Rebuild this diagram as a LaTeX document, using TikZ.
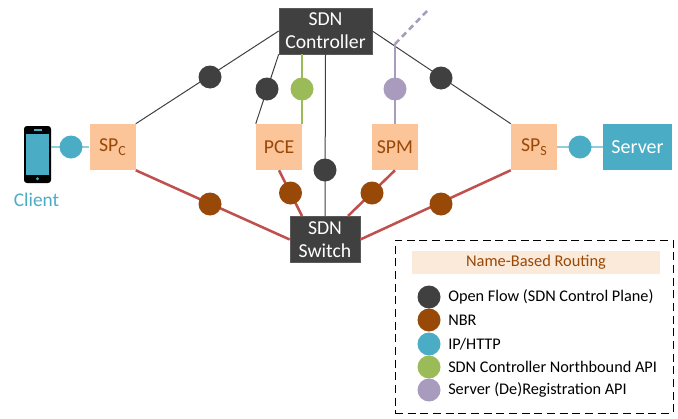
\documentclass[tikz,border=0pt]{standalone}
\usepackage{fontspec}
\setmainfont{Carlito}
\definecolor{dk}{HTML}{404040}
\definecolor{br}{HTML}{984807}
\definecolor{rd}{HTML}{C0504D}
\definecolor{bl}{HTML}{4BACC6}
\definecolor{lb}{HTML}{92CDDC}
\definecolor{gn}{HTML}{9BBB59}
\definecolor{pu}{HTML}{A99BBD}
\definecolor{pe}{HTML}{FBC499}
\definecolor{ti}{HTML}{FBE9DA}
\newcommand{\subtxt}[1]{\raisebox{-0.35ex}{\fontsize{10.5pt}{12pt}\selectfont #1}}
\tikzset{
 x=0.75pt,y=-0.75pt,
 dev/.style={fill=dk,draw=black!30!gray,line width=0.5pt,text=white,font=\fontsize{14.8pt}{17.25pt}\selectfont,align=center,inner sep=0pt,minimum height=34.5pt},
 sp/.style={fill=pe,minimum width=34.5pt,minimum height=34.5pt,inner sep=0pt,text=br,font=\fontsize{14.8pt}{16pt}\selectfont},
 dot/.style={circle,minimum size=17.25pt,inner sep=0pt},
 ctl/.style={dk,line width=0.75pt},
 nbr/.style={rd,line width=1.9pt},
 ip/.style={lb,line width=1.5pt},
 nb/.style={gn,line width=1.9pt},
 reg/.style={pu,line width=1.9pt},
 leg/.style={anchor=west,inner sep=0pt,font=\fontsize{12.2pt}{14pt}\selectfont},
}
\begin{document}
\begin{tikzpicture}
\useasboundingbox (0,0) rectangle (678,418);
% devices
\node[dev,minimum width=69.75pt] (ctrl) at (325.5,31) {SDN\\Controller};
\node[dev,minimum width=52.5pt] (sw) at (325,239.5) {SDN\\Switch};
\node[sp] (spc) at (112.5,147) {SP\subtxt{C}};
\node[sp] (pce) at (279,147) {PCE};
\node[sp] (spm) at (395,147) {SPM};
\node[sp] (sps) at (534,147) {SP\subtxt{S}};
\node[fill=bl,text=white,minimum width=51.75pt,minimum height=34.5pt,inner sep=0pt,font=\fontsize{15pt}{16pt}\selectfont] (srv) at (637.5,147) {Server};
% phone
\node[fill=black,rounded corners=2.2pt,minimum width=20.25pt,minimum height=42.75pt,inner sep=0pt] (ph) at (37.5,154.5) {};
\fill[bl] (26,133.5) rectangle (49,174.5);
\fill[bl] (33.5,129) rectangle (41.5,130.6);
\fill[bl] (37.5,178.8) circle (1.6);
\node[text=bl,font=\fontsize{14.5pt}{16pt}\selectfont,inner sep=0pt] (cl) at (36.5,200) {Client};
% junctions
\coordinate (pj) at (395,44);
\coordinate (pt) at (428,10);
\coordinate (gt) at (302,54);
\coordinate (gb) at (302,124);
\coordinate (st1) at (302,216);
\coordinate (st2) at (348,216);
\coordinate (ipa) at (51,147);
% control lines
\draw[ctl] (ctrl.west) -- (spc.north east);
\draw[ctl] (ctrl.east) -- (sps.north west);
\draw[ctl] (ctrl.south west) -- (pce.north west);
\draw[ctl] (ctrl.south) -- (sw.north);
% nbr
\draw[nbr] (spc.south east) -- (sw.west);
\draw[nbr] (pce.south) -- (st1);
\draw[nbr] (spm.south) -- (st2);
\draw[nbr] (sw.east) -- (sps.south west);
% other
\draw[nb] (gt) -- (gb);
\draw[reg] (spm.north) -- (pj);
\draw[reg,dash pattern=on 4.5pt off 3pt] (pj) -- (pt);
\draw[ip] (ipa) -- (spc.west);
\draw[ip] (sps.east) -- (srv.west);
% dots
\node[dot,fill=dk] (d1) at (210,77) {};
\node[dot,fill=dk] (d2) at (267,89) {};
\node[dot,fill=dk] (d3) at (325,170) {};
\node[dot,fill=dk] (d4) at (441,78) {};
\node[dot,fill=gn] (g1) at (302,89) {};
\node[dot,fill=pu] (p1) at (395,89) {};
\node[dot,fill=bl] (b1) at (71,147) {};
\node[dot,fill=bl] (b2) at (580,147) {};
\node[dot,fill=br] (n1) at (210,204) {};
\node[dot,fill=br] (n2) at (290.5,193) {};
\node[dot,fill=br] (n3) at (372,193) {};
\node[dot,fill=br] (n4) at (441,204) {};
% legend
\node[draw=black,dash pattern=on 6pt off 3.5pt,line width=0.75pt,minimum width=208.5pt,minimum height=129.75pt,inner sep=0pt] (lg) at (534,326.5) {};
\node[fill=ti,text=br,minimum width=186pt,minimum height=17.25pt,inner sep=0pt,font=\fontsize{12.3pt}{14pt}\selectfont] (tt) at (536,262.5) {Name-Based Routing};
\node[dot,fill=dk] (l1) at (429,297) {};
\node[dot,fill=br] (l2) at (429,320) {};
\node[dot,fill=bl] (l3) at (429,344) {};
\node[dot,fill=gn] (l4) at (429,367) {};
\node[dot,fill=pu] (l5) at (429,390) {};
\node[leg] (t1) at (448,297) {Open Flow (SDN Control Plane)};
\node[leg] (t2) at (448,320) {NBR};
\node[leg] (t3) at (448,344) {IP/HTTP};
\node[leg] (t4) at (448,367) {SDN Controller Northbound API};
\node[leg] (t5) at (448,390) {Server (De)Registration API};
\end{tikzpicture}
\end{document}
